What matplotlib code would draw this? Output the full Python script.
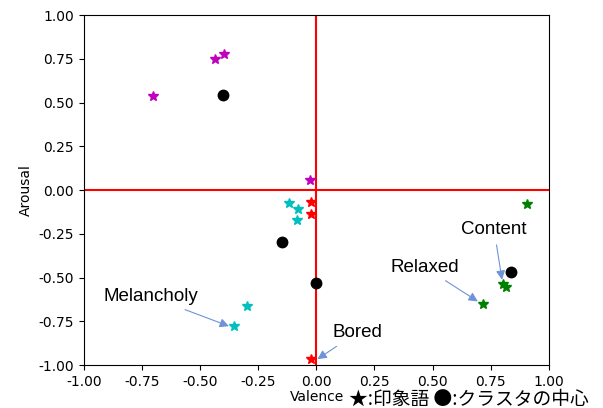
import matplotlib
matplotlib.use("Agg")
import matplotlib.pyplot as plt

# impression words (stars), grouped by cluster
mag_x = [-0.398, -0.437, -0.703, -0.028]
mag_y = [0.777, 0.749, 0.537, 0.057]
cyan_x = [-0.118, -0.080, -0.084, -0.299, -0.355]
cyan_y = [-0.074, -0.109, -0.171, -0.663, -0.777]
red_x = [-0.024, -0.024, -0.024]
red_y = [-0.069, -0.137, -0.966]
green_x = [0.905, 0.802, 0.815, 0.716]
green_y = [-0.080, -0.537, -0.554, -0.651]

# cluster centers
cen_x = [-0.402, -0.148, -0.002, 0.837]
cen_y = [0.543, -0.297, -0.531, -0.469]

# labelled words: (text, point, text position)
labels = ["Content", "Relaxed", "Melancholy", "Bored"]
label_pts = [(0.80, -0.52), (0.70, -0.64), (-0.37, -0.78), (0.0, -0.97)]
label_txt = [(0.765, -0.225), (0.465, -0.44), (-0.71, -0.61), (0.175, -0.815)]

fig = plt.figure(figsize=(6.03, 4.08), dpi=100)
ax = fig.add_axes([0.139, 0.105, 0.771, 0.858])

ax.axhline(0, color="red", lw=1.5, zorder=1)
ax.axvline(0, color="red", lw=1.5, zorder=1)

ax.plot(mag_x, mag_y, "m*", ms=7, ls="none")
ax.plot(cyan_x, cyan_y, "c*", ms=7, ls="none")
ax.plot(red_x, red_y, "r*", ms=7, ls="none")
ax.plot(green_x, green_y, "g*", ms=7, ls="none")
ax.plot(cen_x, cen_y, "ko", ms=7.5, ls="none")

for t, p, q in zip(labels, label_pts, label_txt):
    ax.annotate(t, xy=p, xytext=q, ha="center", va="center",
                fontsize=13.5, family="Liberation Sans",
                arrowprops=dict(arrowstyle="-|>", color="#6f93d8", lw=0.8,
                                shrinkA=3, shrinkB=1))

ax.set_xlim(-1, 1)
ax.set_ylim(-1, 1)
ax.set_xticks([-1, -0.75, -0.5, -0.25, 0, 0.25, 0.5, 0.75, 1])
ax.set_yticks([-1, -0.75, -0.5, -0.25, 0, 0.25, 0.5, 0.75, 1])
ax.xaxis.set_major_formatter(matplotlib.ticker.FormatStrFormatter("%.2f"))
ax.yaxis.set_major_formatter(matplotlib.ticker.FormatStrFormatter("%.2f"))
ax.set_ylabel("Arousal")

fig.text(0.525, 0.018, "Valence", ha="center", fontsize=10)
fig.text(0.578, 0.008, "★:印象語 ●:クラスタの中心", fontsize=13.5,
         family=["Noto Sans CJK JP", "DejaVu Sans"])

fig.savefig("out.png", dpi=100)
